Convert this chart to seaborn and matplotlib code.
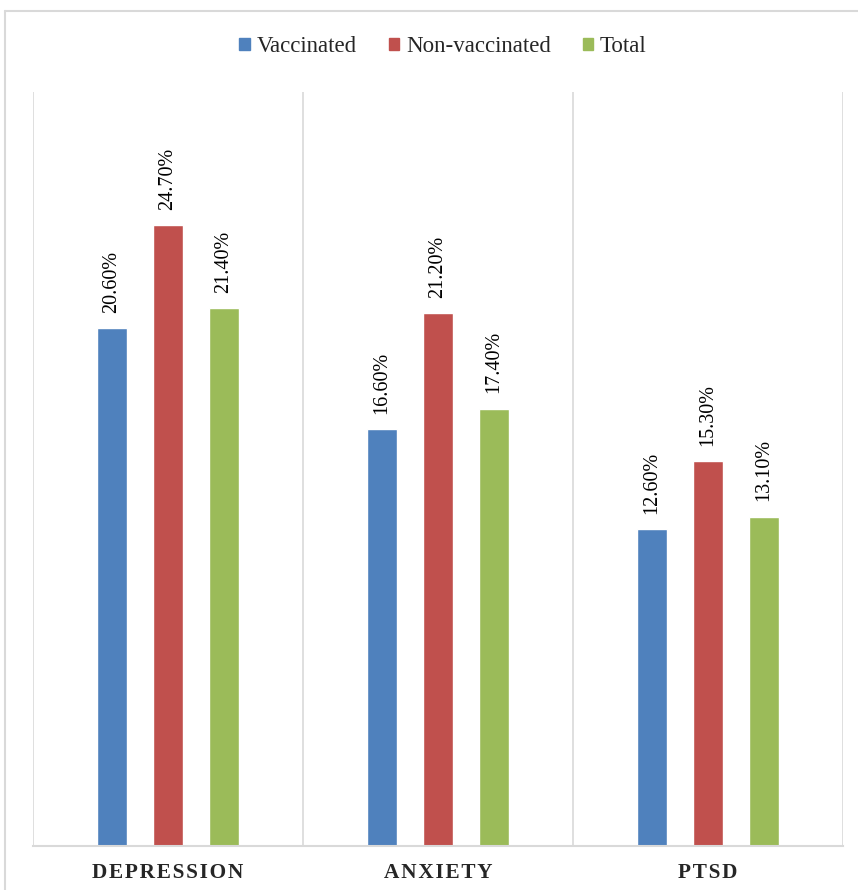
import numpy as np
import pandas as pd
import matplotlib
matplotlib.use('Agg')
import matplotlib.pyplot as plt
import seaborn as sns
from matplotlib.lines import Line2D

# data
categories = ['DEPRESSION', 'ANXIETY', 'PTSD']
groups = ['Vaccinated', 'Non-vaccinated', 'Total']
vaccinated = [20.6, 16.6, 12.6]
non_vaccinated = [24.7, 21.2, 15.3]
total = [21.4, 17.4, 13.1]
colors = ['#4F81BD', '#C0504D', '#9BBB59']

df = pd.DataFrame({
    'category': categories * 3,
    'group': [g for g in groups for _ in categories],
    'value': vaccinated + non_vaccinated + total,
})

sns.set_style('white')
plt.rcParams['font.family'] = ['Liberation Serif', 'DejaVu Serif']

W, H = 858, 890
fig = plt.figure(figsize=(W / 100, H / 100), dpi=100)
ax = fig.add_axes([33 / W, 44 / H, 810 / W, 754 / H])

sns.barplot(data=df, x='category', y='value', hue='group', order=categories,
            hue_order=groups, palette=colors, width=0.622, gap=0.464,
            saturation=1, ax=ax, legend=True)

for cont in ax.containers:
    ax.bar_label(cont, labels=[f'{v:.2f}%' for v in cont.datavalues],
                 rotation=90, padding=11, fontsize=14.5, color='#000000')

ax.set_ylim(0, 30)
ax.set_xlim(-0.5, 2.5)
ax.set_yticks([])
ax.set_ylabel('')
ax.set_xlabel('')
for x in [-0.5, 0.5, 1.5, 2.5]:
    ax.axvline(x, color='#d9d9d9', lw=1.2, zorder=0)
for s in ['left', 'right', 'top']:
    ax.spines[s].set_visible(False)
ax.spines['bottom'].set_color('#d9d9d9')
ax.spines['bottom'].set_linewidth(1.5)

spaced = ['\u200a'.join(c) for c in categories]
ax.set_xticks(range(len(categories)))
ax.set_xticklabels(spaced, fontsize=15.3, fontweight='bold')
ax.tick_params(axis='x', length=0, pad=12)

ax.legend_.remove()
handles = [plt.Rectangle((0, 0), 1, 1, color=c) for c in colors]
fig.legend(handles, groups, loc='center', bbox_to_anchor=(443 / W, 1 - 47 / H),
           ncol=3, frameon=False, fontsize=16.5, handlelength=0.45,
           handleheight=0.45, handletextpad=0.3, columnspacing=1.4)

# outer chart border
fig.add_artist(Line2D([5 / W, 5 / W], [0, 1 - 11 / H], color='#d9d9d9', lw=1.5))
fig.add_artist(Line2D([5 / W, 1], [1 - 11 / H, 1 - 11 / H], color='#d9d9d9', lw=1.5))

plt.savefig('out.png', dpi=100)
plt.close()
